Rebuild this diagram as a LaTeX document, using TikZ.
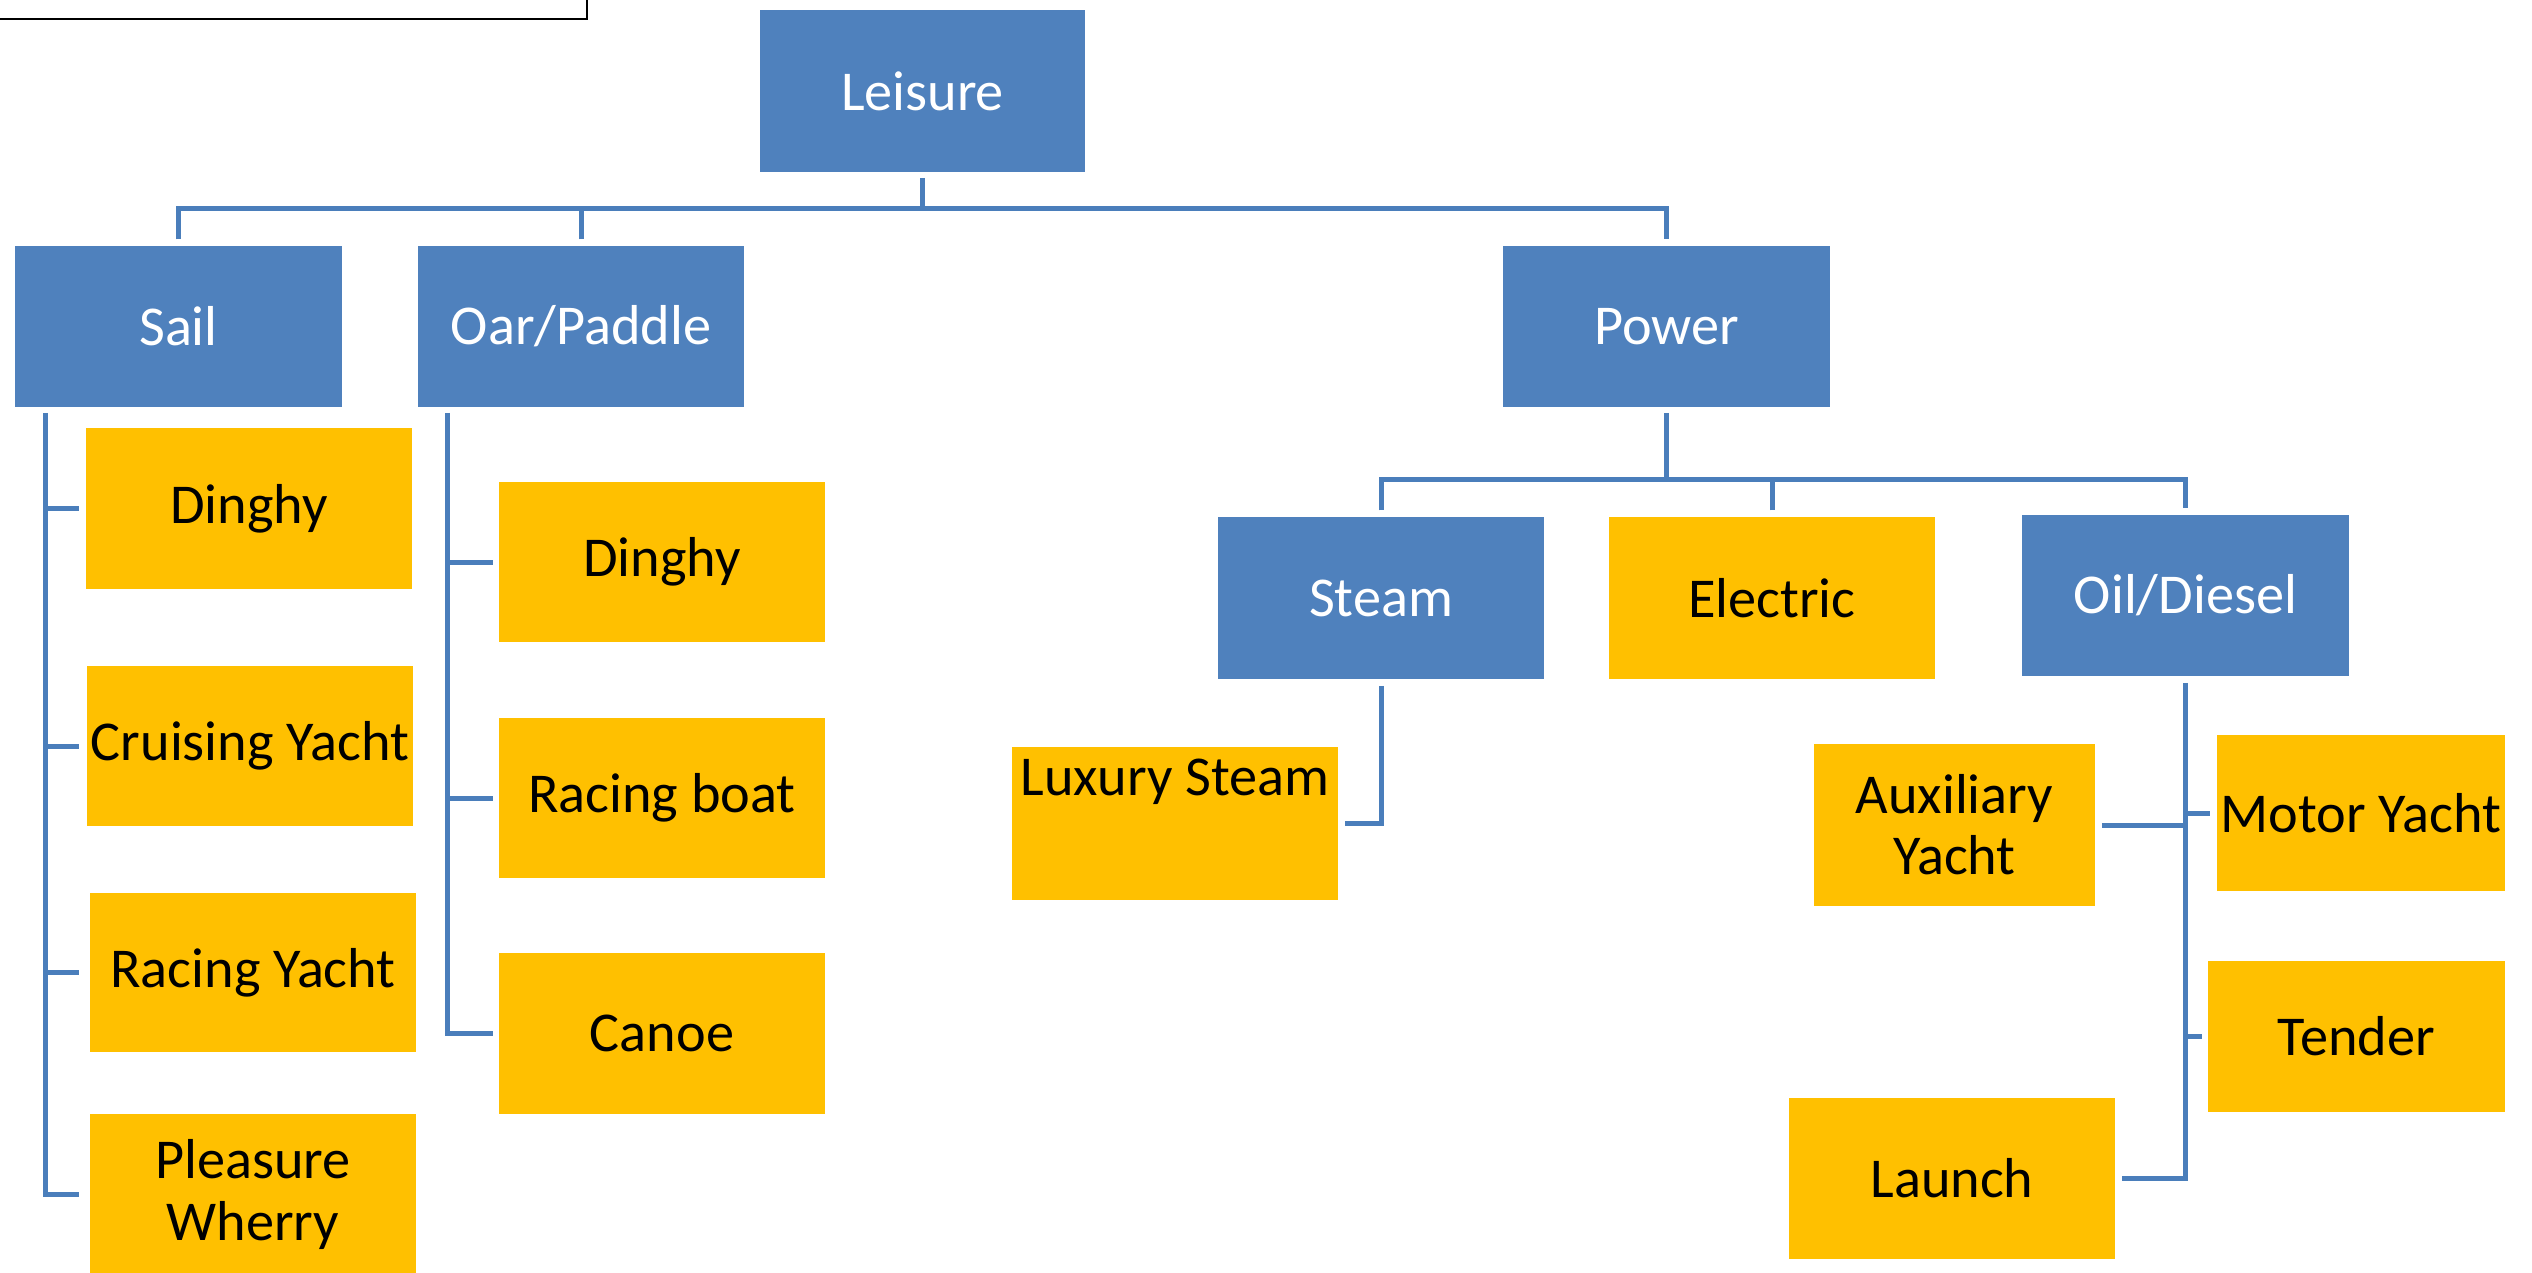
\documentclass[tikz,border=0pt]{standalone}
\usepackage{fontspec}
\setmainfont{Carlito}
\usetikzlibrary{calc}
\definecolor{boxblue}{HTML}{4F81BD}
\definecolor{boxgold}{HTML}{FFC000}
\definecolor{linkblue}{HTML}{4A7EBB}
\tikzset{
  anybox/.style={rectangle, inner sep=0pt, align=center,
    font=\fontsize{16pt}{17.4pt}\selectfont},
  bluebox/.style={anybox, fill=boxblue, text=white},
  goldbox/.style={anybox, fill=boxgold, text=black},
  conn/.style={draw=linkblue, line width=0.05cm},
}
\begin{document}
\begin{tikzpicture}[x=0.01cm, y=-0.01cm]
\useasboundingbox (0,0) rectangle (2532,1272);

% frame corner in the top-left
\draw[black, line width=0.02cm] (587,0) -- (587,19) -- (0,19);

% top level
\node[bluebox, minimum width=3.25cm, minimum height=1.62cm] (leisure) at (922.5,91) {Leisure};
\node[bluebox, minimum width=3.27cm, minimum height=1.61cm] (sail) at (178.5,326.5) {Sail};
\node[bluebox, minimum width=3.26cm, minimum height=1.61cm] (oar) at (581,326.5) {Oar/Paddle};
\node[bluebox, minimum width=3.27cm, minimum height=1.61cm] (power) at (1666.5,326.5) {Power};

% sail branch
\node[goldbox, minimum width=3.26cm, minimum height=1.61cm] (sdinghy) at (249,508.5) {Dinghy};
\node[goldbox, minimum width=3.26cm, minimum height=1.60cm] (cruising) at (250,746) {Cruising Yacht};
\node[goldbox, minimum width=3.26cm, minimum height=1.59cm] (ryacht) at (253,972.5) {Racing Yacht};
\node[goldbox, minimum width=3.26cm, minimum height=1.61cm] (wherry) at (253,1194.5) {Pleasure\\Wherry};

% oar/paddle branch
\node[goldbox, minimum width=3.26cm, minimum height=1.60cm] (odinghy) at (662,562) {Dinghy};
\node[goldbox, minimum width=3.26cm, minimum height=1.60cm] (rboat) at (662,798) {Racing boat};
\node[goldbox, minimum width=3.26cm, minimum height=1.61cm] (canoe) at (662,1033.5) {Canoe};

% power branch
\node[bluebox, minimum width=3.26cm, minimum height=1.62cm] (steam) at (1381,598) {Steam};
\node[goldbox, minimum width=3.26cm, minimum height=1.62cm] (electric) at (1772,598) {Electric};
\node[bluebox, minimum width=3.27cm, minimum height=1.61cm] (oil) at (2185.5,595.5) {Oil/Diesel};

\node[goldbox, minimum width=3.26cm, minimum height=1.53cm,
      text height=0.49cm, text depth=1.04cm] (luxury) at (1175,823.5) {Luxury Steam};

\node[goldbox, minimum width=2.81cm, minimum height=1.62cm] (aux) at (1954.5,825) {Auxiliary\\Yacht};
\node[goldbox, minimum width=2.88cm, minimum height=1.56cm] (motor) at (2361,813) {Motor Yacht};
\node[goldbox, minimum width=2.97cm, minimum height=1.51cm] (tender) at (2356.5,1036.5) {Tender};
\node[goldbox, minimum width=3.26cm, minimum height=1.61cm] (launch) at (1952,1178.5) {Launch};

% connectors: top level
\coordinate (busA) at ($(leisure.south)+(0,36)$);
\draw[conn] ([yshift=-0.05cm]leisure.south) -- (busA);
\draw[conn] ([yshift=0.06cm]sail.north) |- (busA) -| ([yshift=0.06cm]power.north);
\draw[conn] ([yshift=0.06cm]oar.north) -- (oar.north |- busA);

% connectors: sail
\coordinate (sailspine) at ($(sail.south west)+(31,5)$);
\draw[conn] (sailspine) |- ([xshift=-0.10cm]wherry.west);
\draw[conn] (sailspine |- sdinghy.west) -- ([xshift=-0.06cm]sdinghy.west);
\draw[conn] (sailspine |- cruising.west) -- ([xshift=-0.07cm]cruising.west);
\draw[conn] (sailspine |- ryacht.west) -- ([xshift=-0.10cm]ryacht.west);

% connectors: oar/paddle
\coordinate (oarspine) at ($(oar.south west)+(30,5)$);
\draw[conn] (oarspine) |- ([xshift=-0.05cm]canoe.west);
\draw[conn] (oarspine |- odinghy.west) -- ([xshift=-0.05cm]odinghy.west);
\draw[conn] (oarspine |- rboat.west) -- ([xshift=-0.05cm]rboat.west);

% connectors: power
\coordinate (busB) at ($(power.south)+(0,72)$);
\draw[conn] ([yshift=-0.05cm]power.south) -- (busB);
\draw[conn] ([yshift=0.06cm]steam.north) |- (busB) -| ([yshift=0.06cm]oil.north);
\draw[conn] ([yshift=0.06cm]electric.north) -- (electric.north |- busB);

% connectors: steam
\draw[conn] ([yshift=-0.06cm]steam.south) |- ([xshift=0.06cm]luxury.east);

% connectors: oil/diesel
\draw[conn] ([yshift=-0.06cm]oil.south) |- ([xshift=0.06cm]launch.east);
\draw[conn] ([xshift=0.06cm]aux.east) -- (oil.south |- aux.east);
\draw[conn] (oil.south |- motor.west) -- ([xshift=-0.06cm]motor.west);
\draw[conn] (oil.south |- tender.west) -- ([xshift=-0.05cm]tender.west);
\end{tikzpicture}
\end{document}
